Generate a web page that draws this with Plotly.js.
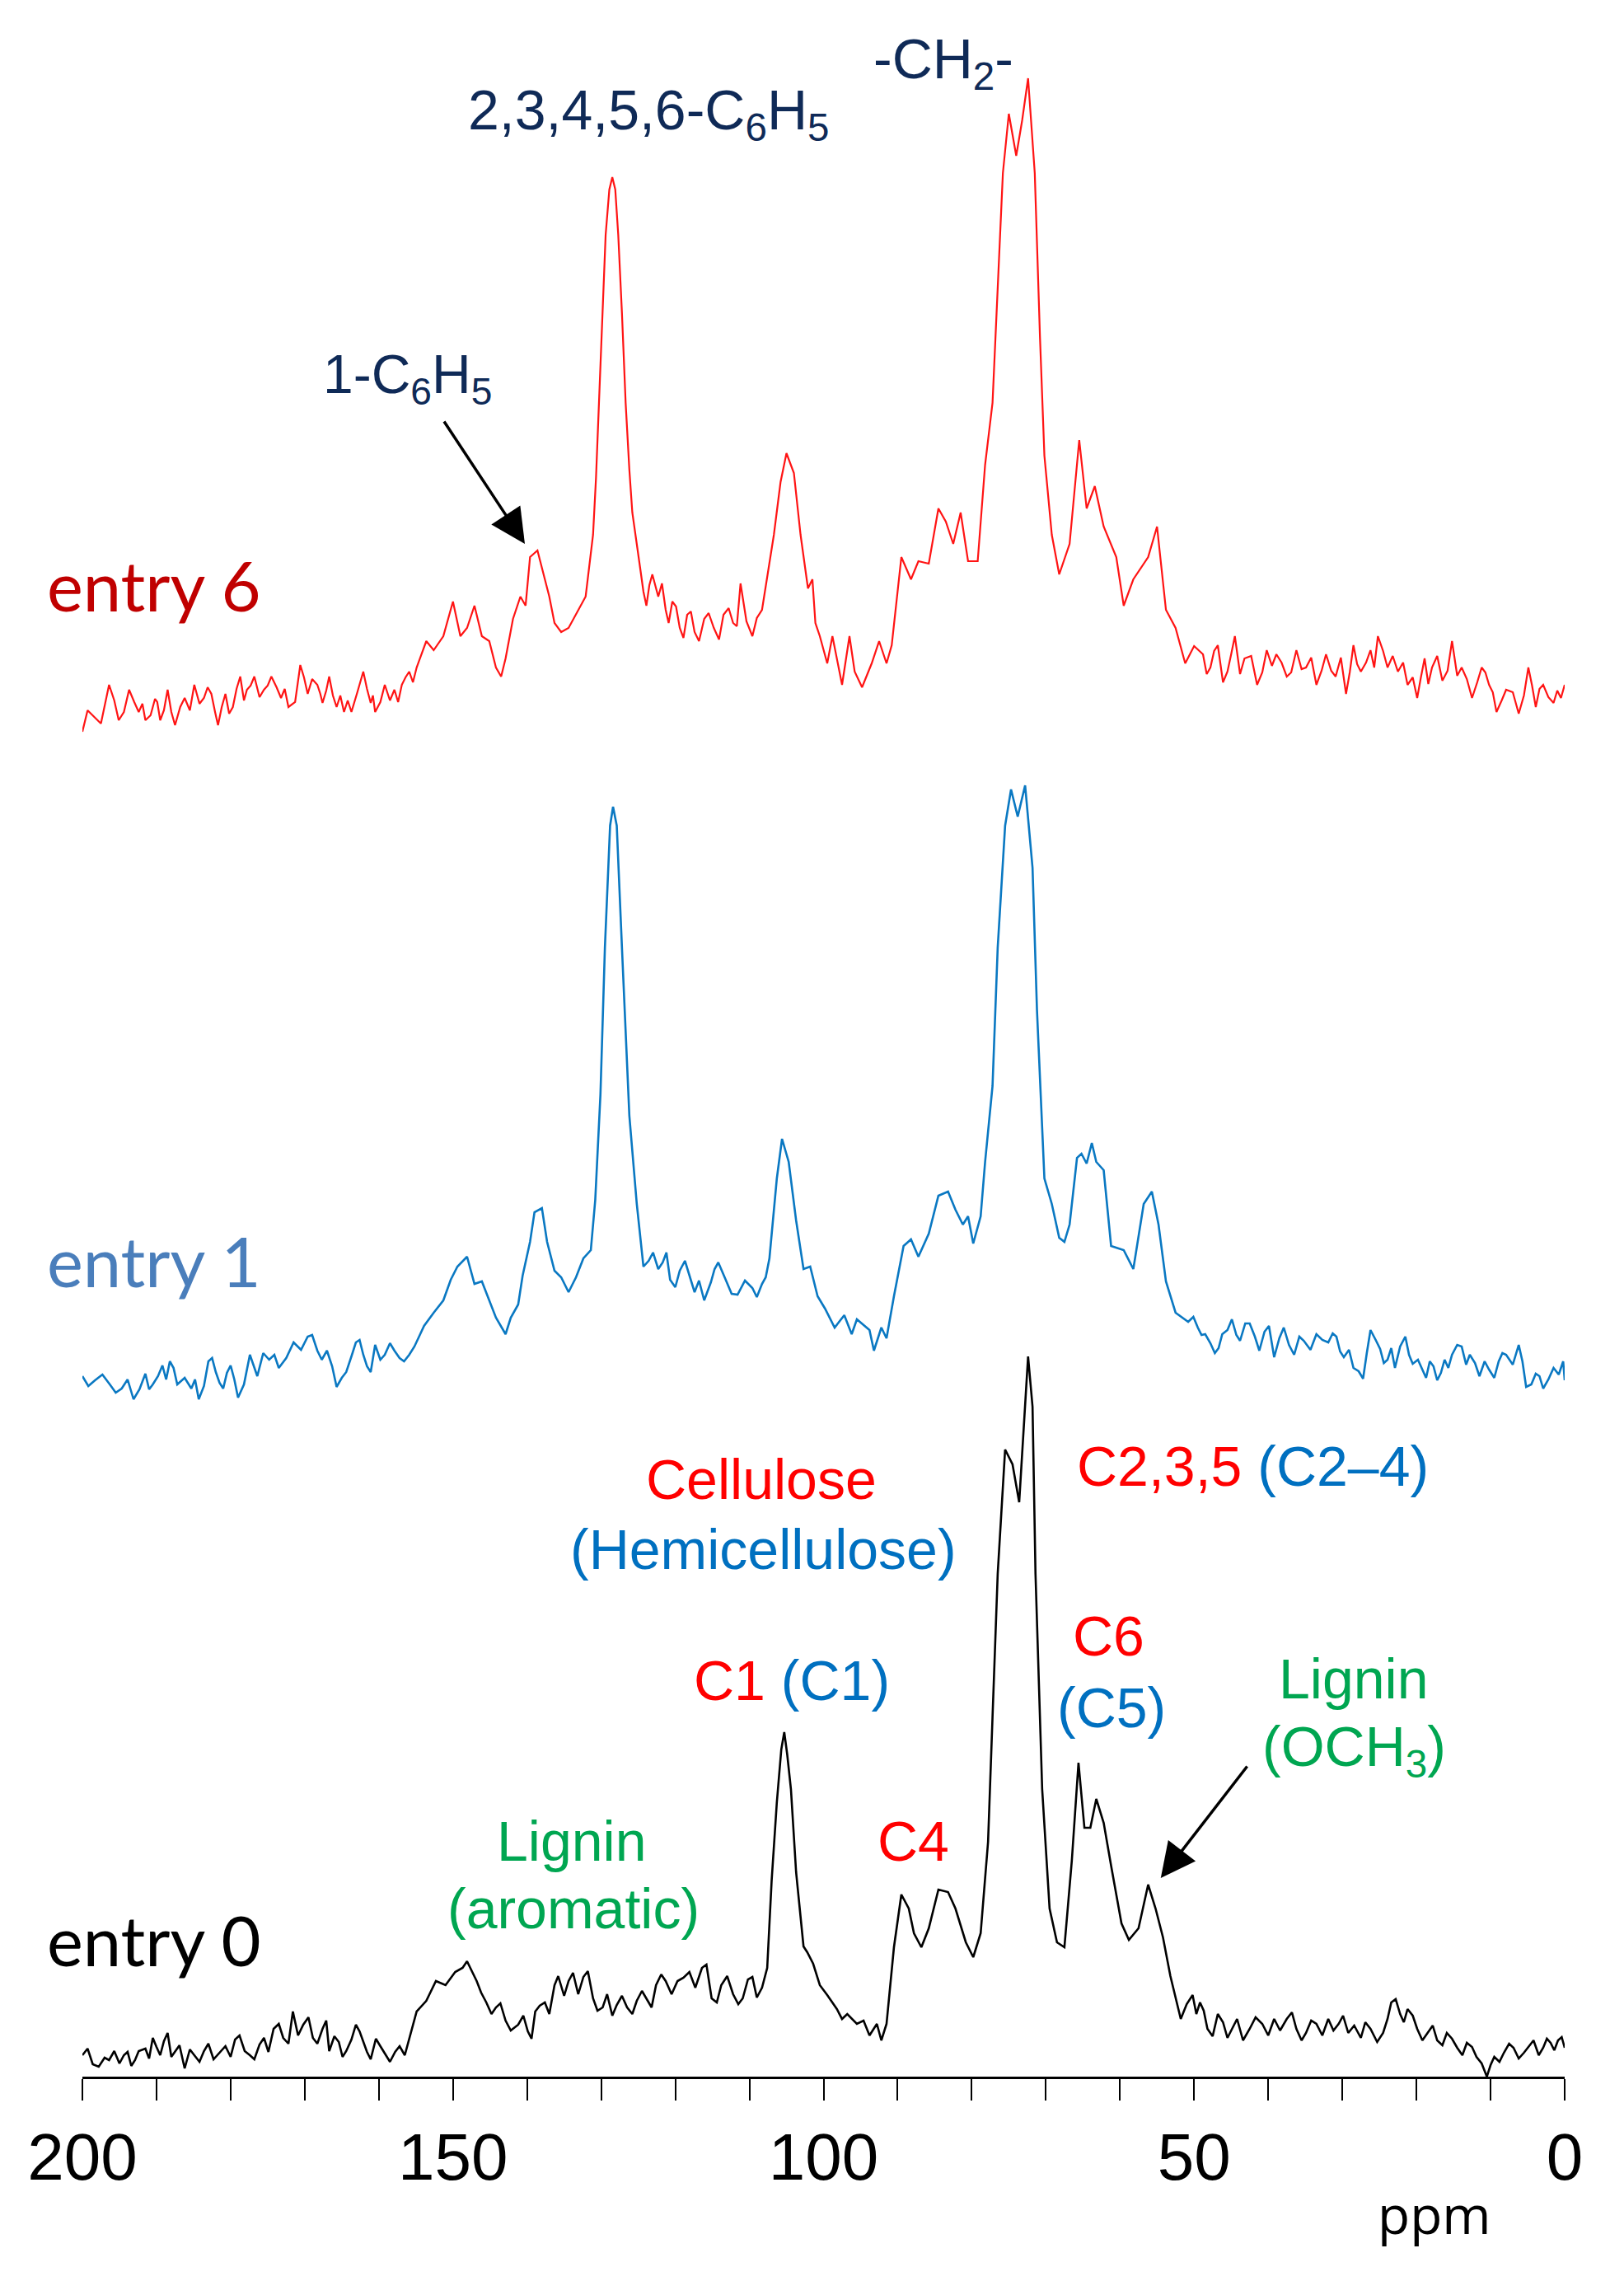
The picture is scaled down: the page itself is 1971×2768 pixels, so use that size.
<!DOCTYPE html>
<html>
<head>
<meta charset="utf-8">
<script src="https://cdn.plot.ly/plotly-3.0.1.min.js"></script>
<style>
  html, body { margin: 0; padding: 0; background: #ffffff; }
  #nmr { width: 1971px; height: 2768px; }
</style>
</head>
<body>
<div id="nmr"></div>
<script>
// 13C CP/MAS NMR spectra, stacked: entry 6 (top), entry 1, entry 0 (bottom)
// intensities are arbitrary units (baseline ~ 0)

// ---- entry 6 (red) ----
var ppm6 = [200, 199.3, 197.5, 196.4, 195.7, 195.1, 194.4, 193.7, 193.0, 192.4, 191.9, 191.5, 190.8, 190.2,
  189.9, 189.5, 189.0, 188.5, 188.0, 187.5, 186.8, 186.2, 185.5, 184.9, 184.2, 183.6, 183.1, 182.6, 182.1,
  181.7, 181.2, 180.7, 180.2, 179.7, 179.2, 178.7, 178.2, 177.8, 177.3, 176.8, 176.1, 175.5, 175.0, 174.5,
  173.8, 173.2, 172.7, 172.2, 171.3, 170.6, 170.1, 169.6, 169.0, 168.3, 167.9, 167.6, 167.1, 166.7, 166.2,
  165.7, 165.2, 164.7, 164.2, 163.7, 162.9, 162.1, 161.6, 161.1, 160.8, 160.5, 159.8, 159.2, 158.5, 157.9,
  157.4, 156.9, 156.4, 155.9, 155.4, 154.9, 153.6, 152.6, 151.3, 150.0,
  149.0, 148.1, 147.1, 146.1, 145.1, 144.2, 143.5, 142.9, 141.9, 140.9, 140.2, 139.6, 138.6, 137.6, 137.0,
  136.3, 135.4, 134.4, 133.1, 132.1, 131.1, 130.7, 130.3, 129.8, 129.4, 128.9, 128.5, 128.1, 127.7, 127.2,
  126.7, 126.2, 125.8, 124.7, 124.3, 123.9, 123.5, 123.1, 122.7, 122.3, 121.8, 121.3, 120.9, 120.4, 119.9,
  119.4, 118.9, 118.4, 117.9, 117.4, 116.8, 116.1, 115.5, 114.8, 114.1, 113.5, 112.8, 112.2, 111.7, 111.2,
  110.4, 109.6, 109.0, 108.3, 106.7, 105.8, 105.0, 104.4, 104.0, 103.1, 102.1, 101.5, 101.1, 100.5, 99.5,
  98.8, 97.5, 96.5, 95.8, 94.8, 93.5, 92.5, 91.5, 90.8, 90.2, 89.5, 88.2, 87.2, 85.8, 84.5, 83.5, 82.5,
  81.5, 80.5, 79.2, 78.2, 77.2, 76.5, 75.8, 75.0, 74.0, 73.2, 72.4, 71.5, 70.8, 70.2, 69.2, 68.2, 66.8,
  65.5, 64.5, 63.4, 62.2, 60.5, 59.5, 58.2, 56.2, 55.0, 53.8, 52.5, 51.2, 50.0, 48.8, 48.3, 47.8, 47.3,
  46.8, 46.1, 45.5, 45.0, 44.5, 43.8, 43.2, 42.3, 41.5, 40.8, 40.2, 39.5, 38.9, 38.2, 37.5, 36.9, 36.2,
  35.5, 34.9, 34.2, 33.5, 32.8, 32.2, 31.5, 30.9, 30.2, 29.5, 29.0, 28.5, 28.0, 27.5, 26.8, 26.2, 25.7,
  25.2, 24.5, 23.9, 23.2, 22.5, 21.8, 21.2, 20.5, 19.9, 19.4, 18.9, 18.4, 17.9, 17.2, 16.5, 15.8, 15.2,
  14.5, 13.9, 13.2, 12.5, 11.8, 11.2, 10.7, 10.2, 9.7, 9.2, 8.5, 7.9, 7.0, 6.2, 5.5, 4.9, 4.4, 3.9,
  3.4, 2.9, 2.2, 1.5, 1.0, 0.5, 0];
var int6 = [1.2, 3.8, 2.2, 6.9, 5.0, 2.6, 3.6, 6.3, 4.8, 3.6, 4.6, 2.6, 3.2, 5.2,
  4.8, 2.6, 3.8, 6.3, 3.6, 2.0, 4.2, 5.3, 3.8, 6.9, 4.6, 5.3, 6.6, 5.8, 3.6,
  2.0, 4.2, 5.8, 3.4, 4.2, 6.4, 7.9, 5.0, 6.3, 6.8, 7.9, 5.4, 6.3, 6.8, 7.9,
  6.6, 5.3, 6.4, 4.2, 4.8, 9.3, 7.8, 5.8, 7.6, 6.9, 5.8, 4.7, 6.2, 7.9, 5.6,
  4.2, 5.6, 3.6, 5.0, 3.6, 6.0, 8.5, 6.4, 4.7, 5.6, 3.6, 4.8, 6.9, 5.0, 6.3,
  4.8, 6.9, 7.8, 8.5, 7.2, 9.0, 12.2, 11.1, 12.8, 17.0,
  12.8, 13.8, 16.5, 12.8, 12.2, 9.0, 7.9, 10.1, 14.9, 17.6, 16.5, 22.4, 23.2, 19.7, 17.6,
  14.4, 13.3, 13.8, 16.0, 17.6, 25.1, 32.0, 41.1, 52.0, 61.5, 67.0, 68.5, 67.0, 61.5, 52.0,
  41.1, 33.0, 27.8, 20.8, 18.2, 16.5, 19.0, 20.3, 18.8, 17.6, 19.2, 16.0, 14.4, 17.0, 16.4,
  13.8, 12.6, 15.4, 15.8, 13.3, 12.2, 14.9, 15.6, 13.8, 12.4, 15.4, 16.2, 14.4, 14.0, 19.2,
  14.6, 12.8, 15.0, 16.0, 25.1, 31.5, 35.0, 33.5, 32.6, 25.1, 18.6, 19.7, 14.4, 12.8, 9.5,
  12.8, 6.9, 12.8, 8.5, 6.6, 9.5, 12.2, 9.5, 11.7, 16.5, 22.4, 19.7, 21.9, 21.6, 28.3, 26.7, 24.0,
  27.8, 21.9, 21.9, 33.6, 41.1, 54.5, 69.0, 76.2, 71.1, 75.4, 80.5, 69.0, 49.2, 34.7, 25.1, 20.3, 24.0,
  36.6, 28.3, 31.0, 26.1, 22.4, 16.5, 19.7, 22.4, 26.1, 16.0, 13.8, 9.5, 11.6, 10.6, 8.2, 9.0, 11.0,
  11.7, 7.2, 8.5, 10.6, 12.8, 8.2, 10.1, 10.4, 6.9, 8.4, 11.1, 9.2, 10.6, 9.6, 7.9, 8.4, 11.1,
  8.8, 9.0, 10.2, 6.9, 8.6, 10.6, 8.6, 7.9, 10.2, 5.8, 8.4, 11.7, 9.4, 8.5, 9.6, 11.1, 9.0,
  12.8, 11.0, 9.0, 10.4, 8.5, 9.6, 6.9, 7.8, 5.3, 7.8, 10.1, 7.0, 9.0, 10.4, 7.4, 8.6, 12.2,
  8.0, 9.0, 7.6, 5.3, 7.2, 9.0, 8.4, 6.9, 6.0, 3.6, 5.0, 6.3, 6.0, 3.4, 5.6, 9.0, 6.8, 4.2,
  6.4, 6.9, 5.4, 4.7, 6.2, 5.3, 6.9];

// ---- entry 1 (blue) ----
var ppm1 = [200, 199.2, 198.3, 197.3, 196.3, 195.5, 194.7, 193.9, 193.1, 192.3, 191.5, 191.0, 190.5, 189.8,
  189.2, 188.7, 188.2, 187.7, 187.2, 186.2, 185.3, 184.8, 184.3, 183.6, 183.0, 182.5, 182.0, 181.5, 181.0,
  180.5, 180.0, 179.5, 179.0, 178.2, 177.4, 176.9, 176.4, 175.6, 174.8, 174.1, 173.5, 172.5, 171.5, 170.5,
  169.6, 169.0, 168.3, 167.7, 167.0, 166.3, 165.7, 165.0, 164.4, 163.7, 163.1, 162.6, 162.1, 161.6, 161.1,
  160.5, 159.8, 159.2, 158.5, 157.9, 157.2, 156.6, 155.9, 155.2, 153.9, 152.6, 151.3, 150.3, 149.4, 148.1,
  147.1, 146.1, 145.1, 144.2, 142.9, 142.2, 141.2, 140.6, 139.6, 139.0, 138.0, 137.3, 136.3, 135.4, 134.4,
  133.4, 132.4, 131.4, 130.8, 130.1, 129.5, 128.8, 128.4, 127.9, 127.2, 126.2, 125.2, 124.3, 123.6, 123.0,
  122.3, 121.7, 121.2, 120.7, 120.0, 119.4, 118.7, 118.1, 117.7, 117.4, 116.8, 116.1, 115.2, 114.7, 114.2,
  113.7, 113.2, 112.4, 111.6, 110.6, 109.6, 109.0, 108.3, 107.8, 107.3, 106.3, 105.6, 104.7, 103.7, 102.7,
  101.8, 100.8, 99.8, 98.5, 97.2, 96.2, 95.5, 93.8, 93.2, 92.2, 91.5, 90.5, 89.2, 88.2, 87.2, 85.8, 84.5,
  83.2, 82.2, 81.2, 80.5, 79.8, 78.8, 78.2, 77.2, 76.5, 75.5, 74.7, 73.8, 72.8, 71.8, 71.2, 70.2, 69.2,
  68.2, 67.5, 66.8, 65.8, 65.2, 64.5, 63.8, 63.2, 62.2, 61.2, 59.5, 58.2, 56.8, 55.7, 54.8, 53.8, 52.5,
  50.8, 50.1, 49.5, 49.0, 48.5, 47.8, 47.2, 46.7, 46.2, 45.5, 44.9, 44.3, 43.8, 43.1, 42.5, 41.8, 41.2,
  40.5, 39.9, 39.2, 38.5, 37.9, 37.2, 36.5, 35.8, 35.2, 34.3, 33.5, 32.7, 31.9, 31.3, 30.8, 30.3, 29.8,
  29.1, 28.5, 27.8, 27.2, 26.7, 26.2, 25.5, 24.9, 24.4, 23.9, 23.4, 22.9, 22.2, 21.5, 21.0, 20.5, 19.8,
  19.2, 18.7, 18.2, 17.7, 17.2, 16.7, 16.2, 15.7, 15.2, 14.5, 13.9, 13.3, 12.8, 12.1, 11.5, 10.8, 10.2,
  9.5, 8.9, 8.4, 7.9, 7.0, 6.2, 5.7, 5.2, 4.5, 3.9, 3.4, 2.9, 2.2, 1.5, 0.8, 0.2, 0];
var int1 = [3.0, 1.8, 2.5, 3.2, 2.0, 1.0, 1.5, 2.6, 0.2, 1.4, 3.3, 1.4, 2.0, 3.0,
  4.3, 2.6, 4.8, 4.0, 2.0, 2.8, 1.5, 2.6, 0.2, 1.8, 4.8, 5.2, 3.5, 2.2, 1.5,
  3.4, 4.3, 2.6, 0.4, 2.0, 5.6, 4.4, 3.0, 5.8, 5.0, 5.6, 4.0, 5.2, 7.1, 6.2,
  7.8, 8.0, 6.1, 5.0, 6.1, 4.2, 1.7, 2.8, 3.5, 5.4, 7.1, 7.4, 5.6, 4.2, 3.5,
  6.8, 5.0, 5.6, 7.0, 6.1, 5.2, 4.8, 5.6, 6.6, 9.1, 10.7, 12.2, 14.7, 16.3, 17.5,
  14.2, 14.5, 12.2, 10.1, 8.1, 10.1, 11.7, 15.2, 19.3, 22.9, 23.4, 19.3, 15.8, 15.0, 13.2,
  15.0, 17.3, 18.3, 24.4, 37.2, 55.0, 69.8, 72.1, 69.8, 55.0, 34.6, 23.9, 16.3, 17.0, 18.0,
  16.0, 16.8, 18.0, 14.7, 13.8, 15.8, 17.0, 15.2, 14.2, 13.2, 14.6, 12.2, 14.4, 16.0, 16.8,
  15.8, 14.7, 13.0, 12.9, 14.6, 13.7, 12.6, 14.2, 15.0, 17.3, 27.0, 31.8, 29.0, 21.9, 16.0,
  16.3, 12.7, 11.2, 8.9, 10.4, 8.1, 9.9, 8.6, 6.1, 8.9, 7.6, 12.7, 18.8, 19.6, 17.5, 20.3, 24.9,
  25.4, 23.2, 21.4, 22.4, 19.1, 22.4, 29.0, 38.2, 55.0, 69.8, 74.2, 70.9, 74.7, 64.7, 47.4, 27.0, 23.9,
  19.8, 19.3, 21.4, 29.5, 30.0, 28.8, 31.3, 29.0, 28.0, 18.8, 18.3, 16.0, 23.9, 25.4, 21.4, 14.5, 10.7,
  9.6, 10.2, 8.9, 8.0, 8.1, 7.0, 5.8, 6.4, 8.1, 8.6, 9.9, 8.0, 7.3, 9.4, 9.4, 7.8, 6.1,
  8.4, 9.1, 5.3, 7.6, 8.9, 6.8, 5.6, 7.8, 7.3, 6.2, 8.1, 7.4, 7.1, 8.2, 7.8, 6.0, 5.3,
  6.2, 4.0, 3.6, 2.7, 5.8, 8.6, 7.4, 6.3, 4.6, 5.0, 6.4, 4.0, 6.6, 7.8, 5.6, 4.5, 5.0,
  3.8, 2.8, 4.8, 4.2, 2.5, 3.4, 5.0, 4.0, 5.6, 6.8, 6.6, 4.4, 5.6, 4.6, 3.0, 4.8, 3.8,
  2.8, 4.8, 5.8, 5.6, 4.4, 6.8, 4.8, 1.7, 2.0, 3.3, 3.0, 1.5, 2.6, 4.0, 3.2, 4.8, 2.5];

// ---- entry 0 (black) ----
var ppm0 = [200, 199.3, 198.6, 197.8, 197.0, 196.4, 195.7, 195.0, 194.4, 193.9, 193.4, 192.9, 192.4, 191.5,
  191.0, 190.5, 190.0, 189.5, 189.0, 188.5, 188.0, 187.5, 186.9, 186.2, 185.5, 184.9, 184.2, 183.6, 183.0,
  182.3, 181.5, 180.7, 180.0, 179.4, 178.8, 178.1, 177.4, 176.8, 176.1, 175.5, 174.9, 174.2, 173.5, 172.9,
  172.2, 171.6, 170.9, 170.2, 169.5, 168.9, 168.3, 167.6, 167.1, 166.7, 166.0, 165.4, 164.9, 164.4, 163.7,
  163.1, 162.6, 162.1, 161.6, 161.1, 160.4, 159.8, 159.1, 158.5, 157.8, 157.2, 156.5, 155.9, 154.9, 153.6,
  152.3, 151.0, 149.7, 148.7, 148.1, 146.8, 146.2, 145.5, 144.8, 144.2, 143.6, 142.9, 142.2, 141.2, 140.5,
  139.9, 139.4, 138.9, 138.3, 137.6, 137.0, 136.3, 135.8, 135.0, 134.4, 133.8, 133.1, 132.4, 131.8, 131.1,
  130.5, 129.8, 129.2, 128.5, 127.9, 127.2, 126.5, 125.8, 125.2, 124.5, 123.9, 123.2, 122.6, 121.9, 121.3,
  120.5, 119.7, 118.9, 118.1, 117.3, 116.4, 115.8, 115.1, 114.4, 113.8, 113.0, 112.2, 111.5, 110.9, 110.2,
  109.6, 109.0, 108.3, 107.6, 107.0, 106.3, 105.7, 105.3, 104.9, 104.4, 103.7, 102.7, 102.2, 101.4, 100.5,
  99.5, 98.2, 97.5, 96.8, 95.5, 94.6, 93.8, 92.8, 92.2, 91.5, 90.5, 89.5, 88.5, 87.8, 86.8, 85.8, 84.5,
  83.2, 82.2, 80.8, 79.8, 78.8, 77.8, 77.2, 76.5, 75.5, 74.5, 73.6, 72.8, 72.4, 71.8, 71.4, 70.5, 69.5,
  68.5, 67.5, 66.5, 65.6, 64.8, 64.0, 63.2, 62.2, 61.2, 59.8, 58.8, 57.5, 56.2, 55.2, 54.2, 53.2, 51.8,
  51.0, 50.2, 49.7, 49.2, 48.7, 48.2, 47.5, 46.8, 46.1, 45.5, 44.9, 44.2, 43.4, 42.5, 41.7, 40.8, 40.0,
  39.2, 38.4, 37.5, 36.8, 36.2, 35.5, 34.9, 34.2, 33.5, 32.7, 31.9, 31.2, 30.5, 29.9, 29.2, 28.4, 27.5,
  26.9, 26.2, 25.3, 24.5, 23.9, 23.4, 22.8, 22.2, 21.7, 21.2, 20.5, 19.9, 19.2, 18.5, 17.8, 17.2, 16.5,
  15.9, 15.2, 14.5, 13.8, 13.2, 12.5, 11.9, 11.2, 10.5, 10.0, 9.5, 8.8, 8.2, 7.5, 6.9, 6.2, 5.5, 4.9,
  4.2, 3.5, 2.9, 2.4, 1.9, 1.4, 0.9, 0.4, 0];
var int0 = [2.6, 3.4, 1.5, 1.2, 2.3, 2.0, 3.1, 1.6, 2.6, 3.0, 1.3, 2.0, 3.1, 3.4,
  2.2, 4.7, 3.6, 2.6, 4.3, 5.3, 2.4, 3.1, 3.8, 1.0, 3.3, 2.6, 1.8, 3.1, 4.0,
  2.1, 2.9, 3.7, 2.4, 4.5, 5.0, 3.1, 2.6, 2.1, 3.9, 4.7, 3.0, 5.8, 6.4, 4.7,
  4.0, 7.9, 5.0, 6.3, 7.2, 4.7, 4.0, 5.8, 6.8, 3.1, 4.9, 4.2, 2.4, 3.1, 4.5,
  6.3, 5.5, 4.2, 3.0, 2.1, 4.6, 3.7, 2.6, 1.8, 3.0, 3.7, 2.6, 4.7, 7.9, 9.2,
  11.6, 11.1, 12.7, 13.2, 14.0, 11.6, 10.2, 9.0, 7.6, 8.4, 8.9, 6.8, 5.6, 6.3, 7.4,
  5.5, 4.6, 7.9, 8.6, 9.0, 7.6, 11.1, 12.2, 9.8, 11.6, 12.6, 10.0, 12.1, 12.8, 9.5,
  8.0, 8.4, 10.0, 7.4, 8.7, 9.8, 8.4, 7.6, 9.2, 10.4, 9.5, 8.4, 11.1, 12.4, 11.6,
  10.0, 11.6, 12.0, 12.7, 10.8, 13.2, 13.6, 9.5, 9.0, 11.1, 12.2, 10.0, 8.8, 9.5, 11.8,
  12.1, 9.6, 10.8, 13.2, 23.8, 33.3, 39.7, 41.8, 39.1, 34.9, 24.8, 15.8, 15.1, 13.7, 11.1,
  9.9, 8.2, 7.0, 7.6, 6.4, 6.8, 5.0, 6.4, 4.4, 6.4, 15.7, 22.1, 20.4, 17.4, 15.7, 18.0, 22.7,
  22.4, 20.4, 16.3, 14.5, 17.4, 28.5, 43.6, 61.0, 76.1, 74.3, 69.7, 81.3, 87.4, 81.3, 61.0, 34.9, 20.4,
  16.3, 15.7, 26.2, 38.1, 30.2, 30.2, 33.7, 30.8, 25.6, 18.6, 16.6, 18.0, 23.3, 20.4, 16.9, 12.2, 7.0,
  8.8, 9.9, 7.6, 9.0, 8.0, 5.8, 4.9, 7.6, 6.6, 4.7, 5.8, 7.0, 4.4, 5.8, 7.2, 6.4, 5.0,
  7.0, 5.6, 7.0, 7.8, 5.8, 4.4, 5.3, 6.8, 6.4, 5.0, 7.0, 5.6, 6.4, 7.4, 5.3, 6.2, 4.7,
  6.6, 5.8, 4.2, 5.3, 7.0, 9.0, 9.4, 7.6, 6.6, 8.2, 7.4, 5.8, 4.4, 5.3, 6.2, 4.4, 3.8,
  5.3, 4.6, 3.5, 2.6, 4.1, 3.6, 2.4, 1.6, 0.0, 1.4, 2.4, 1.8, 2.9, 4.0, 3.5, 2.2, 2.9, 3.6,
  4.4, 2.6, 3.5, 4.6, 4.1, 3.2, 4.4, 4.8, 3.5];

var ticksMajor = [200, 150, 100, 50, 0];

var NAVY = '#0f2a57';
var RED = '#ff0000';
var BLUE = '#0070c0';
var GREEN = '#00a651';
var ANNO_FONT = 'Liberation Sans, Arial, sans-serif';

function span(color, txt) {
  return '<span style="color:' + color + '">' + txt + '</span>';
}

var traces = [
  { x: ppm0, y: int0, type: 'scatter', mode: 'lines', yaxis: 'y',
    line: { color: '#000000', width: 2.6 }, name: 'entry 0' },
  { x: ppm1, y: int1, type: 'scatter', mode: 'lines', yaxis: 'y2',
    line: { color: '#0a78c2', width: 2.6 }, name: 'entry 1' },
  { x: ppm6, y: int6, type: 'scatter', mode: 'lines', yaxis: 'y3',
    line: { color: '#ff1414', width: 2.2 }, name: 'entry 6' }
];

// text labels; each one sits on the axis of the spectrum it belongs to
function label(txt, x, y, yref, color, size) {
  return { text: txt, x: x, y: y, xref: 'x', yref: yref, showarrow: false,
    xanchor: 'center', yanchor: 'middle',
    font: { family: ANNO_FONT, size: size || 68, color: color } };
}

var annotations = [
  // entry labels
  { text: 'entry 6', xref: 'paper', x: -0.025, y: 19, yref: 'y3', xanchor: 'left', yanchor: 'middle',
    showarrow: false, font: { family: 'Lato, sans-serif', size: 83, color: '#c00000' } },
  { text: 'entry 1', xref: 'paper', x: -0.025, y: 17, yref: 'y2', xanchor: 'left', yanchor: 'middle',
    showarrow: false, font: { family: 'Lato, sans-serif', size: 83, color: '#4a7ebb' } },
  { text: 'entry 0', xref: 'paper', x: -0.025, y: 16.6, yref: 'y', xanchor: 'left', yanchor: 'middle',
    showarrow: false, font: { family: 'Lato, sans-serif', size: 83, color: '#000000' } },

  // entry 6 assignments
  label('2,3,4,5,6-C<sub>6</sub>H<sub>5</sub>', 123.6, 76.2, 'y3', NAVY),
  label('-CH<sub>2</sub>-', 83.8, 82.4, 'y3', NAVY),
  label('1-C<sub>6</sub>H<sub>5</sub>', 156.1, 44.1, 'y3', NAVY, 66),
  { text: '', x: 140.3, y: 24, xref: 'x', yref: 'y3', showarrow: true, ax: -99, ay: -150,
    arrowhead: 2, arrowsize: 2.4, arrowwidth: 3.5, arrowcolor: '#000000' },

  // entry 0 assignments
  label(span(RED, 'Cellulose'), 108.4, 72.5, 'y', RED),
  label(span(BLUE, '(Hemicellulose)'), 108.1, 64.0, 'y', BLUE),
  label(span(RED, 'C1') + ' ' + span(BLUE, '(C1)'), 104.3, 48.1, 'y', RED),
  label(span(RED, 'C2,3,5') + ' ' + span(BLUE, '(C2–4)'), 42.1, 74.1, 'y', RED),
  label('C6', 61.5, 53.5, 'y', RED),
  label('(C5)', 61.1, 44.8, 'y', BLUE),
  label('C4', 87.9, 28.6, 'y', RED),
  label('Lignin', 134.0, 28.6, 'y', GREEN),
  label('(aromatic)', 133.7, 20.4, 'y', GREEN),
  label('Lignin', 28.5, 48.3, 'y', GREEN),
  label('(OCH<sub>3</sub>)', 28.4, 39.6, 'y', GREEN),
  { text: '', x: 54.5, y: 24.1, xref: 'x', yref: 'y', showarrow: true, ax: 106, ay: -137,
    arrowhead: 2, arrowsize: 2.4, arrowwidth: 3.5, arrowcolor: '#000000' },

  // axis unit
  { text: 'ppm', xref: 'x', x: 17.6, yref: 'paper', y: 0, yanchor: 'middle', yshift: -166,
    showarrow: false, font: { family: 'Open Sans, sans-serif', size: 64, color: '#000000' } }
];

var layout = {
  width: 1971,
  height: 2768,
  margin: { l: 100, r: 72, t: 20, b: 248 },
  paper_bgcolor: '#ffffff',
  plot_bgcolor: '#ffffff',
  showlegend: false,
  xaxis: {
    range: [200, 0],
    tickvals: ticksMajor,
    ticks: 'outside', ticklen: 26, tickwidth: 2, tickcolor: '#000000',
    minor: { dtick: 10, ticks: 'outside', ticklen: 26, tickwidth: 2, tickcolor: '#000000' },
    showline: true, linecolor: '#000000', linewidth: 3,
    showgrid: false, zeroline: false,
    tickfont: { family: 'Liberation Sans, Arial, sans-serif', size: 80, color: '#000000' }
  },
  // one pixel scale for all three, offsets only move the baselines
  yaxis: { range: [0, 250], visible: false, fixedrange: true },
  yaxis2: { range: [-82, 168], overlaying: 'y', visible: false, fixedrange: true },
  yaxis3: { range: [-162, 88], overlaying: 'y', visible: false, fixedrange: true },
  annotations: annotations
};

Plotly.newPlot('nmr', traces, layout, { staticPlot: true, displayModeBar: false });
</script>
</body>
</html>
